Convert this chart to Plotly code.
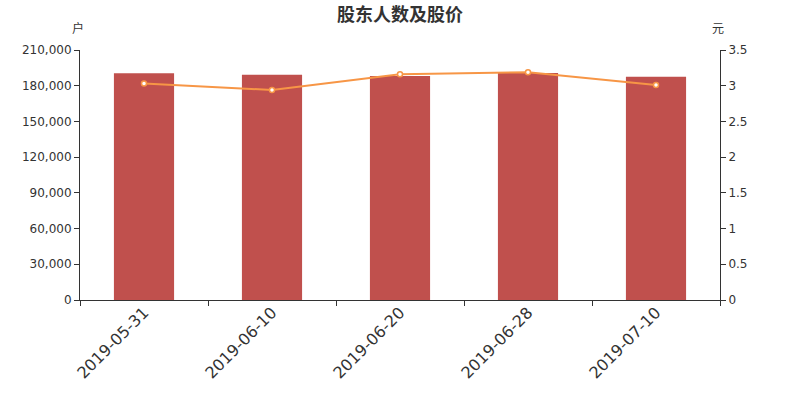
import plotly.graph_objects as go

# 股东人数及股价
dates = ['2019-05-31', '2019-06-10', '2019-06-20', '2019-06-28', '2019-07-10']
holders = [190400, 189300, 188200, 190600, 187600]   # 户
price = [3.03, 2.94, 3.16, 3.19, 3.01]               # 元

left_ticks = [0, 30000, 60000, 90000, 120000, 150000, 180000, 210000]
right_ticks = [0, 0.5, 1, 1.5, 2, 2.5, 3, 3.5]
right_labels = ['0', '0.5', '1', '1.5', '2', '2.5', '3', '3.5']

font_fam = 'DejaVu Sans, Noto Sans CJK SC'
axis_col = '#333333'

fig = go.Figure()
fig.add_trace(go.Bar(
    x=dates, y=holders, name='股东人数',
    marker=dict(color='#c0504d', line=dict(width=0)),
    width=0.47,
))
fig.add_trace(go.Scatter(
    x=dates, y=price, name='股价', yaxis='y2',
    mode='lines+markers',
    line=dict(color='#f79646', width=2),
    marker=dict(size=5, color='white', line=dict(color='#f79646', width=1.5)),
))

fig.update_layout(
    width=800, height=400,
    margin=dict(l=80, r=80, t=50, b=100),
    paper_bgcolor='white', plot_bgcolor='white',
    showlegend=False,
    font=dict(family=font_fam, color=axis_col),
    title=dict(text='<b>股东人数及股价</b>', x=0.5, xanchor='center',
               y=1 - 15 / 400, yanchor='middle', yref='container',
               font=dict(family='Noto Sans CJK SC', size=18, color=axis_col)),
    xaxis=dict(
        type='category', showline=True, linecolor=axis_col, linewidth=1,
        ticks='outside', ticklen=5, tickcolor=axis_col, tickson='boundaries',
        tickangle=-45, tickfont=dict(size=16, color=axis_col),
        ticklabelstandoff=-4,
        showgrid=False, zeroline=False,
    ),
    yaxis=dict(
        range=[0, 210000], tickvals=left_ticks, tickformat=',d',
        showline=True, linecolor=axis_col, linewidth=1,
        ticks='outside', ticklen=5, tickcolor=axis_col,
        tickfont=dict(size=12, color=axis_col),
        showgrid=False, zeroline=False,
    ),
    yaxis2=dict(
        range=[0, 3.5], tickvals=right_ticks, ticktext=right_labels,
        overlaying='y', side='right',
        showline=True, linecolor=axis_col, linewidth=1,
        ticks='outside', ticklen=5, tickcolor=axis_col,
        tickfont=dict(size=12, color=axis_col),
        showgrid=False, zeroline=False,
    ),
    annotations=[
        dict(text='户', xref='paper', yref='paper', x=0, y=1.09,
             xanchor='center', yanchor='middle', xshift=-2, showarrow=False,
             font=dict(family='Noto Sans CJK SC', size=12, color=axis_col)),
        dict(text='元', xref='paper', yref='paper', x=1, y=1.09,
             xanchor='center', yanchor='middle', xshift=-2, showarrow=False,
             font=dict(family='Noto Sans CJK SC', size=12, color=axis_col)),
    ],
)

# page has a default 8px body margin, drop it so the plot sits at 0,0
fig.write_html('out.html', config={'displayModeBar': False},
               post_script="document.body.style.margin='0';")
